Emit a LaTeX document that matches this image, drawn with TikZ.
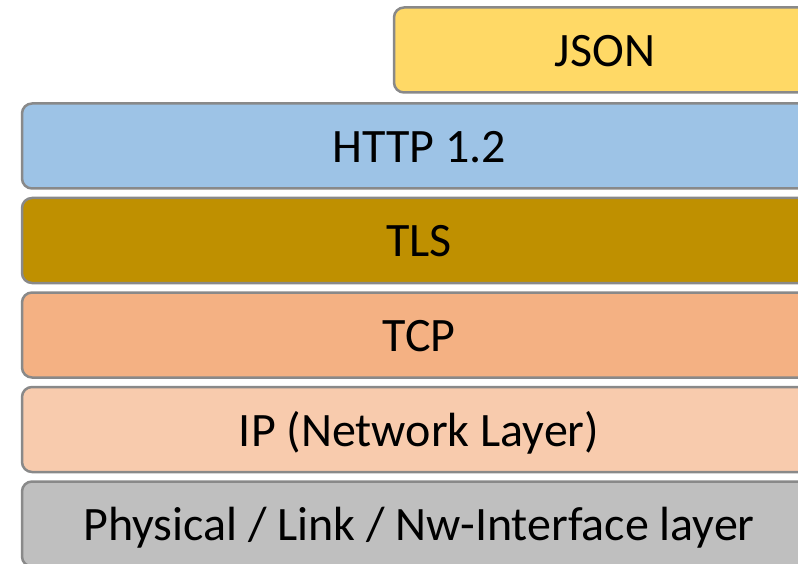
\documentclass[tikz,border=0pt]{standalone}
\usepackage{fontspec}
\setmainfont{Carlito}
\usetikzlibrary{positioning}
\definecolor{cJson}{HTML}{FFD966}
\definecolor{cHttp}{HTML}{9DC3E6}
\definecolor{cTls}{HTML}{BF9000}
\definecolor{cTcp}{HTML}{F4B183}
\definecolor{cIp}{HTML}{F8CBAD}
\definecolor{cPhy}{HTML}{BFBFBF}
\definecolor{cEdge}{HTML}{898989}
\tikzset{
  layer/.style={rounded corners=10pt, draw=cEdge, line width=2.5pt, fill=#1, inner sep=0pt, outer sep=0pt,
    minimum width=794pt, minimum height=85pt, text height=40pt, text depth=7pt,
    font=\fontsize{48}{58}\selectfont, text=black},
}
\begin{document}
\begin{tikzpicture}[x=1pt, y=-1pt, node distance=9.5pt]
\useasboundingbox (0,0) rectangle (798,564);
\node[layer=cHttp, anchor=north west] (http) at (22,103.5) {HTTP 1.2};
\node[layer=cJson, minimum width=422pt, above=11pt of http.north east, anchor=south east] (json) {JSON};
\node[layer=cTls, below=of http] (tls) {TLS};
\node[layer=cTcp, below=of tls] (tcp) {TCP};
\node[layer=cIp, below=of tcp] (ip) {IP (Network Layer)};
\node[layer=cPhy, below=of ip] (phy) {Physical / Link / Nw-Interface layer};
\end{tikzpicture}
\end{document}
